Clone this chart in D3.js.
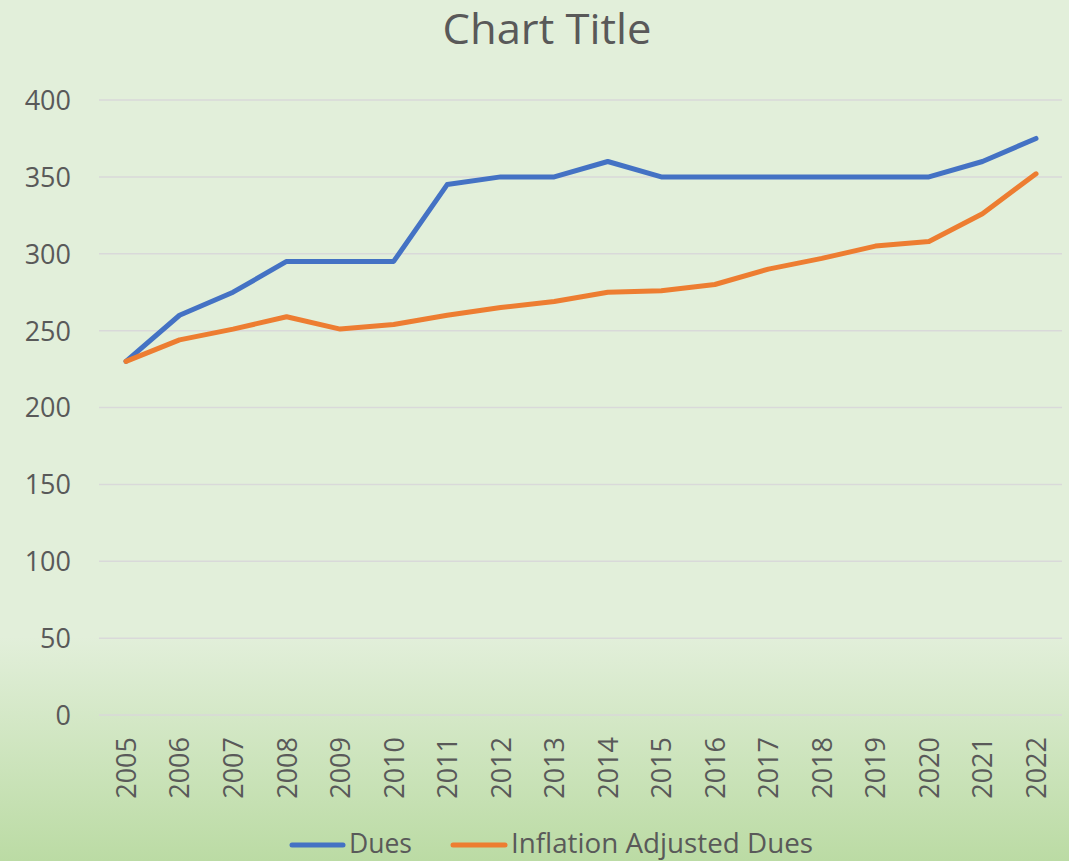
<!DOCTYPE html>
<html><head><meta charset="utf-8">
<script src="https://cdn.jsdelivr.net/npm/d3@7"></script>
<style>html,body{margin:0;padding:0;background:#e2efda;}svg{display:block;}</style>
</head><body>
<svg id="c" width="1069" height="861"></svg>
<script>
const years = ["2005","2006","2007","2008","2009","2010","2011","2012","2013","2014","2015","2016","2017","2018","2019","2020","2021","2022"];
const dues = [230,260,275,295,295,295,345,350,350,360,350,350,350,350,350,350,360,375];
const inflationAdjusted = [230,244,251,259,251,254,260,265,269,275,276,280,290,297,305,308,326,352];
const yTicks = [0,50,100,150,200,250,300,350,400];
const seriesNames = ["Dues","Inflation Adjusted Dues"];
const colors = ["#4472c4","#ed7d31"];

const W=1069,H=861;
const svg=d3.select("#c");
const defs=svg.append("defs");
const g=defs.append("linearGradient").attr("id","bg").attr("x1",0).attr("y1",0).attr("x2",0).attr("y2",1);
g.append("stop").attr("offset","0%").attr("stop-color","#e2efda");
g.append("stop").attr("offset","74%").attr("stop-color","#e2efda");
g.append("stop").attr("offset","100%").attr("stop-color","#bbdba4");
svg.append("rect").attr("width",W).attr("height",H).attr("fill","url(#bg)");

const font="'Open Sans', 'Noto Sans', sans-serif";
const txt="#595959";

svg.append("text").attr("x",547).attr("y",44).attr("text-anchor","middle")
  .attr("font-family",font).attr("font-size",42).attr("fill",txt)
  .attr("textLength",209).attr("lengthAdjust","spacingAndGlyphs").text("Chart Title");

const x=d3.scalePoint().domain(years).range([126,1036]);
const y=d3.scaleLinear().domain([0,400]).range([715,100]);

// gridlines
svg.append("g").selectAll("line").data(yTicks).join("line")
  .attr("x1",99).attr("x2",1062).attr("y1",d=>y(d)).attr("y2",d=>y(d))
  .attr("stroke","#d9d9d9").attr("stroke-width",1.5);

// y axis labels
const ya=svg.append("g").attr("transform","translate(71,0)")
  .call(d3.axisLeft(y).tickValues(yTicks).tickSize(0).tickPadding(0));
ya.select(".domain").remove();
ya.selectAll("text").attr("font-family",font).attr("font-size",27).attr("fill",txt).attr("dy","0.35em");

// x axis labels
const xa=svg.append("g").attr("transform","translate(0,737)")
  .call(d3.axisBottom(x).tickSize(0).tickPadding(0));
xa.select(".domain").remove();
xa.selectAll("text").attr("font-family",font).attr("font-size",27).attr("fill",txt)
  .attr("transform","rotate(-90)").attr("text-anchor","end").attr("x",0).attr("y",0).attr("dy","0.35em");

const line=d3.line().x((d,i)=>x(years[i])).y(d=>y(d));
[dues,inflationAdjusted].forEach((s,k)=>{
  svg.append("path").datum(s).attr("d",line).attr("fill","none")
    .attr("stroke",colors[k]).attr("stroke-width",5).attr("stroke-linejoin","round").attr("stroke-linecap","round");
});

// legend
const leg=[{x1:292,x2:343,tx:349,tl:63},{x1:453,x2:505,tx:511,tl:302}];
seriesNames.forEach((n,k)=>{
  svg.append("line").attr("x1",leg[k].x1).attr("x2",leg[k].x2).attr("y1",845).attr("y2",845)
    .attr("stroke",colors[k]).attr("stroke-width",5).attr("stroke-linecap","round");
  svg.append("text").attr("x",leg[k].tx).attr("y",853).attr("font-family",font).attr("font-size",27)
    .attr("fill",txt).attr("textLength",leg[k].tl).attr("lengthAdjust","spacingAndGlyphs").text(n);
});
</script>
</body></html>
